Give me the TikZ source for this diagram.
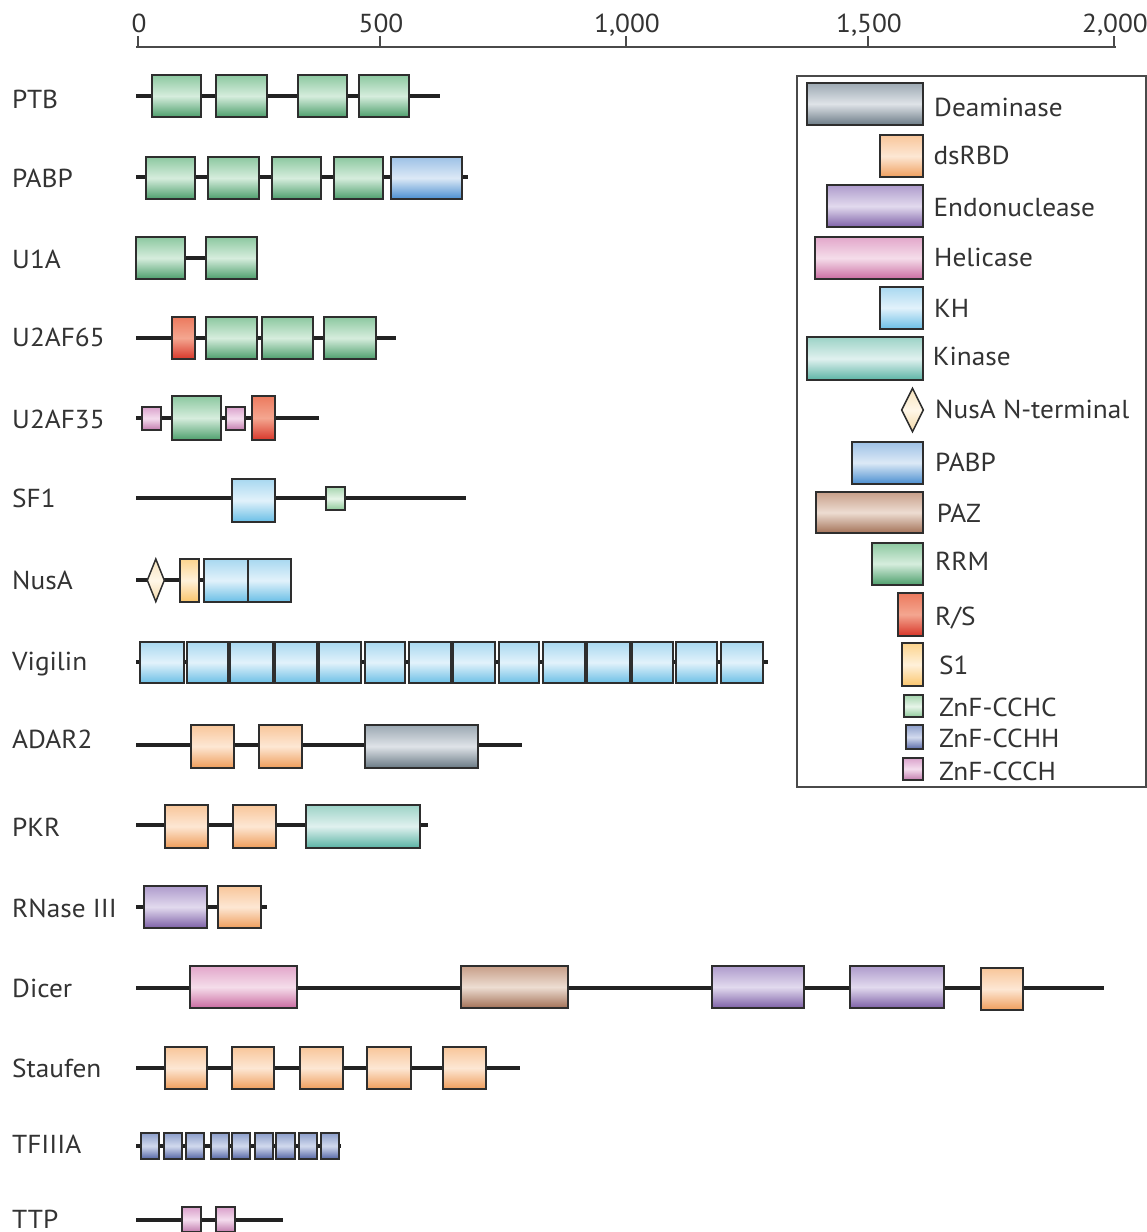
\documentclass[tikz,border=0pt]{standalone}
\usepackage{fontspec}
\newfontfamily\dgfamily[FakeStretch=1.05]{PT Sans}
\newcommand\dgfont{\dgfamily\fontsize{26}{30}\selectfont}

% domain colours: top edge, middle highlight, bottom edge
\definecolor{rrmT}{HTML}{8CC8A0}\definecolor{rrmM}{HTML}{D6EDDD}\definecolor{rrmB}{HTML}{4D9F6C}
\definecolor{pabT}{HTML}{9DC1E6}\definecolor{pabM}{HTML}{DCE9F6}\definecolor{pabB}{HTML}{4A8ED0}
\definecolor{khT}{HTML}{A8D8F0}\definecolor{khM}{HTML}{E2F2FB}\definecolor{khB}{HTML}{6BBFE6}
\definecolor{dsT}{HTML}{F8C69A}\definecolor{dsM}{HTML}{FDE7D4}\definecolor{dsB}{HTML}{EF9E5C}
\definecolor{deT}{HTML}{9BA8B2}\definecolor{deM}{HTML}{DFE3E8}\definecolor{deB}{HTML}{6B7B86}
\definecolor{enT}{HTML}{AE9BCC}\definecolor{enM}{HTML}{E2DAEE}\definecolor{enB}{HTML}{7D60A7}
\definecolor{heT}{HTML}{E2A6CA}\definecolor{heM}{HTML}{F5DDEA}\definecolor{heB}{HTML}{CA6BA1}
\definecolor{kiT}{HTML}{9DD3C7}\definecolor{kiM}{HTML}{E0F1EF}\definecolor{kiB}{HTML}{5BB4A5}
\definecolor{pzT}{HTML}{C79E88}\definecolor{pzM}{HTML}{EDDDD2}\definecolor{pzB}{HTML}{A37157}
\definecolor{rsT}{HTML}{EC7A5E}\definecolor{rsM}{HTML}{F4A690}\definecolor{rsB}{HTML}{D8372A}
\definecolor{s1T}{HTML}{FCD48E}\definecolor{s1M}{HTML}{FFF1DA}\definecolor{s1B}{HTML}{FBC66C}
\definecolor{hcT}{HTML}{A6D5AF}\definecolor{hcM}{HTML}{E7F5E9}\definecolor{hcB}{HTML}{8CC898}
\definecolor{hhT}{HTML}{8D9FCB}\definecolor{hhM}{HTML}{D2DAEE}\definecolor{hhB}{HTML}{5667A6}
\definecolor{chT}{HTML}{DAA1CB}\definecolor{chM}{HTML}{F4DDEE}\definecolor{chB}{HTML}{C27DAE}
\definecolor{nuT}{HTML}{F7E3BC}\definecolor{nuM}{HTML}{FFF7E8}\definecolor{nuB}{HTML}{F3D9A8}
\definecolor{edge}{HTML}{2E2E2E}
\definecolor{bb}{HTML}{222222}
\definecolor{txt}{HTML}{333333}
\definecolor{frame}{HTML}{4A4A4A}

\tikzset{
  dombox/.style={draw=edge, line width=2pt},
  rrm/.style={dombox, top color=rrmT, bottom color=rrmB, middle color=rrmM},
  pabp/.style={dombox, top color=pabT, bottom color=pabB, middle color=pabM},
  kh/.style={dombox, top color=khT, bottom color=khB, middle color=khM},
  dsrbd/.style={dombox, top color=dsT, bottom color=dsB, middle color=dsM},
  deam/.style={dombox, top color=deT, bottom color=deB, middle color=deM},
  endo/.style={dombox, top color=enT, bottom color=enB, middle color=enM},
  heli/.style={dombox, top color=heT, bottom color=heB, middle color=heM},
  kinase/.style={dombox, top color=kiT, bottom color=kiB, middle color=kiM},
  paz/.style={dombox, top color=pzT, bottom color=pzB, middle color=pzM},
  rs/.style={dombox, top color=rsT, bottom color=rsB, middle color=rsM},
  sone/.style={dombox, top color=s1T, bottom color=s1B, middle color=s1M},
  cchc/.style={dombox, top color=hcT, bottom color=hcB, middle color=hcM},
  cchh/.style={dombox, top color=hhT, bottom color=hhB, middle color=hhM},
  ccch/.style={dombox, top color=chT, bottom color=chB, middle color=chM},
  nusn/.style={draw=edge, line width=1.5pt, line join=miter, top color=nuT, bottom color=nuB, middle color=nuM},
  backbone/.style={draw=bb, line width=4pt},
  axisline/.style={draw=frame, line width=2pt},
  lab/.style={anchor=base west, text=txt, font=\dgfont, inner sep=0pt},
  ticklab/.style={anchor=base, text=txt, font=\dgfont, inner sep=0pt},
}

% \dom{style}{left}{right}{centre y}{height}
\newcommand\dom[5]{\path[#1] (#2,{#4-#5/2}) rectangle (#3,{#4+#5/2});}
% \nusdiamond{centre x}{centre y}{half width}{half height}
\newcommand\nusdiamond[4]{\path[nusn] ({#1-#3},#2) -- (#1,{#2-#4}) -- ({#1+#3},#2) -- (#1,{#2+#4}) -- cycle;}

\begin{document}
\begin{tikzpicture}[x=1pt,y=-1pt]
\useasboundingbox (0,0) rectangle (1147,1232);

% ---- length scale (amino acids) ----
\draw[axisline] (136,46.5) -- (1116,46.5);
\foreach \x/\t [count=\i] in {138/0, 380/500, 626/{1,000}, 868/{1,500}, 1114/{2,000}} {
  \draw[axisline] (\x,46.5) -- (\x,36);
  \node[ticklab] (tick\i) at (\x+1,32) {\t};
}

% ---- protein names ----
\node[lab] (nPTB)    at (12,108)  {PTB};
\node[lab] (nPABP)   at (12,187)  {PABP};
\node[lab] (nUIA)    at (12,268)  {U1A};
\node[lab] (nUsixfive) at (12,346) {U2AF65};
\node[lab] (nUthreefive) at (12,428) {U2AF35};
\node[lab] (nSF)     at (12,507)  {SF1};
\node[lab] (nNusA)   at (12,589)  {NusA};
\node[lab] (nVig)    at (12,670)  {Vigilin};
\node[lab] (nADAR)   at (12,748)  {ADAR2};
\node[lab] (nPKR)    at (12,836)  {PKR};
\node[lab] (nRN)     at (12,917)  {RNase III};
\node[lab] (nDicer)  at (12,997)  {Dicer};
\node[lab] (nStau)   at (12,1077) {Staufen};
\node[lab] (nTF)     at (12,1153) {TFIIIA};
\node[lab] (nTTP)    at (12,1228) {TTP};

% ---- PTB ----
\draw[backbone] (136,96) -- (440,96);
\dom{rrm}{152.3}{200.7}{96}{42}
\dom{rrm}{216}{266.7}{96}{42}
\dom{rrm}{298.3}{347.3}{96}{42}
\dom{rrm}{358.7}{409.3}{96}{42}

% ---- PABP ----
\draw[backbone] (136,177) -- (468,177);
\dom{rrm}{146}{195}{178}{42}
\dom{rrm}{208.3}{259}{178}{42}
\dom{rrm}{272.3}{321}{178}{42}
\dom{rrm}{334.3}{383.3}{178}{42}
\dom{pabp}{390.7}{461.7}{178}{42}

% ---- U1A ----
\draw[backbone] (180,258) -- (210,258);
\dom{rrm}{136}{185}{258}{42}
\dom{rrm}{206.3}{257}{258}{42}

% ---- U2AF65 ----
\draw[backbone] (136,338) -- (395.7,338);
\dom{rs}{172}{194.7}{338}{42}
\dom{rrm}{206.3}{257}{338}{42}
\dom{rrm}{262.3}{312.7}{338}{42}
\dom{rrm}{324.3}{375.7}{338}{42}

% ---- U2AF35 ----
\draw[backbone] (136,418.3) -- (319.3,418.3);
\dom{ccch}{141.7}{161}{418.3}{23}
\dom{rrm}{172}{220.7}{418}{44}
\dom{ccch}{226.3}{245}{418.3}{23}
\dom{rs}{252}{275.3}{418}{44}

% ---- SF1 ----
\draw[backbone] (136,498.3) -- (466,498.3);
\dom{kh}{232}{275.3}{500.3}{42.5}
\dom{cchc}{326}{345.3}{498.5}{23}

% ---- NusA ----
\draw[backbone] (136,580) -- (210,580);
\nusdiamond{155.8}{580.3}{8.5}{21.3}
\dom{sone}{180.3}{199}{580.3}{42.5}
\dom{kh}{204}{247.8}{580.3}{42.5}
\dom{kh}{247.8}{291}{580.3}{42.5}

% ---- Vigilin (14 KH repeats) ----
\draw[backbone] (136,662.3) -- (768,662.3);
\foreach \a/\b in {140.2/184, 186.8/227.8, 229.8/272.8, 274.9/316.9, 319/360.9,
                   364.7/405.4, 408.7/451.1, 453.2/495.2, 498.5/538.8, 543/585,
                   587.1/629.5, 631.6/673.1, 676.4/717.1, 720.5/763.3}
  {\dom{kh}{\a}{\b}{662.5}{41.6}}

% ---- ADAR2 ----
\draw[backbone] (136,745) -- (522,745);
\dom{dsrbd}{191}{233.8}{746.3}{42.6}
\dom{dsrbd}{259}{301.7}{746.3}{42.6}
\dom{deam}{364.7}{477.6}{746.3}{42.6}

% ---- PKR ----
\draw[backbone] (136,825) -- (428,825);
\dom{dsrbd}{164.5}{207.8}{826.3}{42.6}
\dom{dsrbd}{232.5}{275.7}{826.3}{42.6}
\dom{kinase}{306.4}{419.7}{826.3}{42.6}

% ---- RNase III ----
\draw[backbone] (136,907) -- (267,907);
\dom{endo}{143.9}{207}{907}{42}
\dom{dsrbd}{218.1}{261.4}{907}{42}

% ---- Dicer ----
\draw[backbone] (136,987.5) -- (1104,987.5);
\dom{heli}{190.4}{297}{987}{42}
\dom{paz}{461.2}{567.8}{987}{42}
\dom{endo}{711.6}{804.1}{987}{42}
\dom{endo}{850}{944.4}{987}{42}
\dom{dsrbd}{980.7}{1022.9}{989}{42}

% ---- Staufen ----
\draw[backbone] (136,1068) -- (519.7,1068);
\foreach \a/\b in {164.6/207, 231.9/274.4, 300/342.5, 367/411.4, 443.2/486}
  {\dom{dsrbd}{\a}{\b}{1068}{42}}

% ---- TFIIIA (9 zinc fingers) ----
\draw[backbone] (136,1146) -- (340.7,1146);
\foreach \a/\b in {141/159, 163.7/181.7, 185.7/204.3, 210.7/228.7, 232.3/250.3,
                   255.3/273.3, 276.3/295, 299.3/316.7, 321/339}
  {\dom{cchh}{\a}{\b}{1146}{25.5}}

% ---- TTP ----
\draw[backbone] (136,1220) -- (283.3,1220);
\dom{ccch}{182}{201}{1219.5}{24.5}
\dom{ccch}{216}{235}{1219.5}{24.5}

% ---- key ----
\draw[draw=frame, line width=2pt] (797.3,76) rectangle (1146,787.3);
\dom{deam}{807.3}{922.7}{103.8}{42.3}
\dom{dsrbd}{880}{922.7}{156.2}{42.3}
\dom{endo}{827.3}{922.7}{206.2}{42.3}
\dom{heli}{815}{922.7}{258}{42.6}
\dom{kh}{880}{922.7}{307.8}{42.3}
\dom{kinase}{807.3}{922.7}{358.7}{42.7}
\nusdiamond{912.5}{410}{10.8}{21.7}
\dom{pabp}{851.7}{922.7}{462.8}{42.3}
\dom{paz}{815.7}{922.7}{512.5}{41.6}
\dom{rrm}{871.7}{922.7}{563.8}{42.3}
\dom{rs}{897.7}{922.7}{614.5}{42.4}
\dom{sone}{901.7}{922.7}{664.7}{42.7}
\dom{cchc}{904}{922.7}{706.3}{22}
\dom{cchh}{905.7}{922.7}{737.2}{24.3}
\dom{ccch}{903.3}{922.7}{768.8}{22.3}

\node[lab] (kDeam) at (934,116.7) {Deaminase};
\node[lab] (kds)   at (933.3,164) {dsRBD};
\node[lab] (kEndo) at (933.3,216.7) {Endonuclease};
\node[lab] (kHeli) at (934,266.7) {Helicase};
\node[lab] (kKH)   at (934,317.3) {KH};
\node[lab] (kKin)  at (932.7,365.7) {Kinase};
\node[lab] (kNus)  at (935,418.3) {NusA N-terminal};
\node[lab] (kPABP) at (935,471.7) {PABP};
\node[lab] (kPAZ)  at (936.7,522.3) {PAZ};
\node[lab] (kRRM)  at (935,570) {RRM};
\node[lab] (kRS)   at (935,625) {R/S};
\node[lab] (kS)    at (939,674.3) {S1};
\node[lab] (kHC)   at (939,716.7) {ZnF-CCHC};
\node[lab] (kHH)   at (939,747.3) {ZnF-CCHH};
\node[lab] (kCH)   at (939,780) {ZnF-CCCH};
\end{tikzpicture}
\end{document}
